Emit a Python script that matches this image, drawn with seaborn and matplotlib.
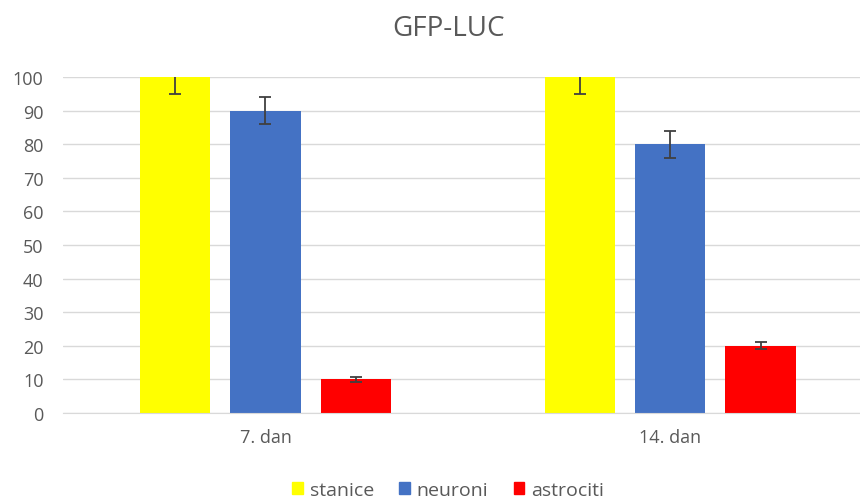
import seaborn as sns
import matplotlib.pyplot as plt
import pandas as pd

days = ["7. dan", "14. dan"]
groups = ["stanice", "neuroni", "astrociti"]
stanice = [100, 100]
neuroni = [90, 80]
astrociti = [10, 20]
err_stanice = [5, 5]
err_neuroni = [4, 4]
err_astrociti = [0.7, 1.0]
colors = ["#ffff00", "#4472c4", "#ff0000"]

df = pd.DataFrame({
    "dan": days * 3,
    "grupa": [g for g in groups for _ in days],
    "vrijednost": stanice + neuroni + astrociti,
})
errs = err_stanice + err_neuroni + err_astrociti

sns.set_style("white")
plt.rcParams["font.family"] = ["Open Sans", "DejaVu Sans"]

fig = plt.figure(figsize=(8.6, 5.02), dpi=100)
ax = fig.add_axes([63 / 860, 88 / 502, 797 / 860, 336 / 502])

sns.barplot(data=df, x="dan", y="vrijednost", hue="grupa", order=days,
            hue_order=groups, palette=colors, width=0.667, gap=0.222,
            errorbar=None, saturation=1, linewidth=0, ax=ax, zorder=2)

# error bars at the centre of each bar
bars = [p for p in ax.patches if p.get_height() > 0][:len(errs)]
for p, e in zip(bars, errs):
    ax.errorbar(p.get_x() + p.get_width() / 2, p.get_height(), yerr=e,
                color="#404040", capsize=4.5, elinewidth=1.3, capthick=1.3,
                zorder=3, clip_on=True)

ax.set_ylim(0, 100)
ax.set_xlim(-0.5, 1.468)
ax.set_yticks(range(0, 101, 10))
ax.yaxis.grid(True, color="#d9d9d9", linewidth=1)
ax.set_axisbelow(True)
for s in ["top", "right", "left"]:
    ax.spines[s].set_visible(False)
ax.spines["bottom"].set_color("#d9d9d9")
ax.tick_params(axis="both", length=0, labelsize=13, colors="#595959")
ax.tick_params(axis="y", pad=14)
ax.tick_params(axis="x", pad=11)
ax.set_xlabel("")
ax.set_ylabel("")

fig.text(448 / 860, 1 - 29 / 502, "GFP-LUC", ha="center", va="center",
         fontsize=20, color="#595959")

ax.legend_.remove()
handles = [plt.Rectangle((0, 0), 1, 1, color=c) for c in colors]
fig.legend(handles, groups, loc="center", bbox_to_anchor=(448 / 860, 1 - 491 / 502),
           ncol=3, frameon=False, fontsize=14, handlelength=0.55, handleheight=0.55,
           handletextpad=0.35, columnspacing=1.3, labelcolor="#595959",
           borderpad=0)

fig.savefig("out.png", dpi=100)
